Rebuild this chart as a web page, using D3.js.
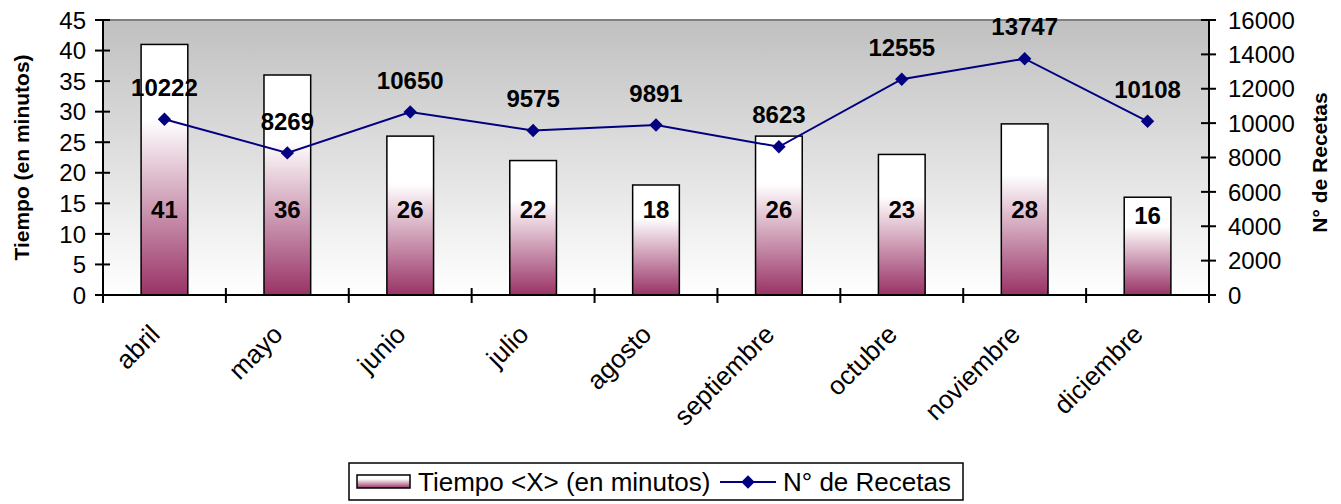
<!DOCTYPE html>
<html>
<head>
<meta charset="utf-8">
<script src="https://cdn.jsdelivr.net/npm/d3@7"></script>
<style>
  body { margin: 0; background: #fff; }
  text { font-family: "Liberation Sans", Arial, sans-serif; }
</style>
</head>
<body>
<svg id="chart" width="1341" height="504"></svg>
<script>
var months = ["abril", "mayo", "junio", "julio", "agosto", "septiembre", "octubre", "noviembre", "diciembre"];
var tiempo = [41, 36, 26, 22, 18, 26, 23, 28, 16];
var recetas = [10222, 8269, 10650, 9575, 9891, 8623, 12555, 13747, 10108];
var leftTicks = [0, 5, 10, 15, 20, 25, 30, 35, 40, 45];
var rightTicks = [0, 2000, 4000, 6000, 8000, 10000, 12000, 14000, 16000];

var svg = d3.select("#chart");
var plotLeft = 103, plotRight = 1209, plotTop = 20, plotBottom = 295;

var defs = svg.append("defs");
var bg = defs.append("linearGradient").attr("id", "bg")
    .attr("x1", 0).attr("y1", 0).attr("x2", 0).attr("y2", 1);
bg.append("stop").attr("offset", "0%").attr("stop-color", "#c0c0c0");
bg.append("stop").attr("offset", "100%").attr("stop-color", "#ffffff");

var barGrad = defs.append("linearGradient").attr("id", "barGrad")
    .attr("x1", 0).attr("y1", 0).attr("x2", 0).attr("y2", 1);
barGrad.append("stop").attr("offset", "0%").attr("stop-color", "#ffffff");
barGrad.append("stop").attr("offset", "30%").attr("stop-color", "#ffffff");
barGrad.append("stop").attr("offset", "100%").attr("stop-color", "#993366");

// both y scales share the same pixel range
var yLeft = d3.scaleLinear().domain([0, 45]).range([plotBottom, plotTop]);
var yRight = d3.scaleLinear().domain([0, 16000]).range([plotBottom, plotTop]);
var x = d3.scaleBand().domain(months).range([plotLeft, plotRight])
    .paddingInner(0.62).paddingOuter(0.31);

// plot background
svg.append("rect")
    .attr("x", plotLeft).attr("y", plotTop)
    .attr("width", plotRight - plotLeft).attr("height", plotBottom - plotTop)
    .attr("fill", "url(#bg)");
svg.append("line")
    .attr("x1", plotLeft).attr("x2", plotRight).attr("y1", plotTop).attr("y2", plotTop)
    .attr("stroke", "#808080").attr("stroke-width", 2);

// bars
svg.selectAll("rect.bar")
    .data(tiempo)
    .enter()
    .append("rect")
    .attr("class", "bar")
    .attr("x", function(d, i){ return x(months[i]); })
    .attr("y", function(d){ return yLeft(d); })
    .attr("width", x.bandwidth())
    .attr("height", function(d){ return plotBottom - yLeft(d); })
    .attr("fill", "url(#barGrad)")
    .attr("stroke", "#000")
    .attr("stroke-width", 1.5);

// axes
var axisG = svg.append("g").attr("stroke", "#000").attr("stroke-width", 2);
axisG.append("line").attr("x1", plotLeft).attr("x2", plotLeft).attr("y1", plotTop).attr("y2", plotBottom + 8);
axisG.append("line").attr("x1", plotRight).attr("x2", plotRight).attr("y1", plotTop).attr("y2", plotBottom + 8);
axisG.append("line").attr("x1", plotLeft - 8).attr("x2", plotRight + 7).attr("y1", plotBottom).attr("y2", plotBottom);

axisG.selectAll("line.lt").data(leftTicks).enter().append("line")
    .attr("x1", plotLeft - 8).attr("x2", plotLeft + 7)
    .attr("y1", function(d){ return yLeft(d); })
    .attr("y2", function(d){ return yLeft(d); });
axisG.selectAll("line.rt").data(rightTicks).enter().append("line")
    .attr("x1", plotRight - 8).attr("x2", plotRight + 7)
    .attr("y1", function(d){ return yRight(d); })
    .attr("y2", function(d){ return yRight(d); });

var step = x.step();
axisG.selectAll("line.xt").data(d3.range(1, months.length)).enter().append("line")
    .attr("x1", function(i){ return plotLeft + i * step; })
    .attr("x2", function(i){ return plotLeft + i * step; })
    .attr("y1", plotBottom - 7).attr("y2", plotBottom + 8);

svg.selectAll("text.lt").data(leftTicks).enter().append("text")
    .attr("x", plotLeft - 17)
    .attr("y", function(d){ return yLeft(d); })
    .attr("dy", "0.36em")
    .attr("text-anchor", "end")
    .attr("font-size", 24)
    .text(function(d){ return d; });

svg.selectAll("text.rt").data(rightTicks).enter().append("text")
    .attr("x", plotRight + 19)
    .attr("y", function(d){ return yRight(d); })
    .attr("dy", "0.36em")
    .attr("font-size", 24)
    .text(function(d){ return d; });

svg.selectAll("text.xl").data(months).enter().append("text")
    .attr("transform", function(d){
        return "translate(" + (x(d) + x.bandwidth() / 2 - 3) + "," + (plotBottom + 41) + ") rotate(-45)";
    })
    .attr("text-anchor", "end")
    .attr("font-size", 26)
    .text(function(d){ return d; });

// axis titles
svg.append("text")
    .attr("transform", "translate(29," + ((plotTop + plotBottom) / 2) + ") rotate(-90)")
    .attr("text-anchor", "middle")
    .attr("font-size", 21).attr("font-weight", "bold")
    .text("Tiempo (en minutos)");
svg.append("text")
    .attr("transform", "translate(1327," + ((plotTop + plotBottom) / 2 + 5) + ") rotate(-90)")
    .attr("text-anchor", "middle")
    .attr("font-size", 21).attr("font-weight", "bold")
    .text("N° de Recetas");

// bar labels
svg.selectAll("text.bl").data(tiempo).enter().append("text")
    .attr("x", function(d, i){ return x(months[i]) + x.bandwidth() / 2; })
    .attr("y", function(d){ return Math.max(yLeft(14), yLeft(d) + 18); })
    .attr("dy", "0.36em")
    .attr("text-anchor", "middle")
    .attr("font-size", 24).attr("font-weight", "bold")
    .text(function(d){ return d; });

// line series
var cx = function(i){ return x(months[i]) + x.bandwidth() / 2; };
var line = d3.line()
    .x(function(d, i){ return cx(i); })
    .y(function(d){ return yRight(d); });
svg.append("path")
    .datum(recetas)
    .attr("d", line)
    .attr("fill", "none")
    .attr("stroke", "#000080")
    .attr("stroke-width", 2);

var diamond = d3.symbol().type(d3.symbolSquare).size(90);
svg.selectAll("path.pt").data(recetas).enter().append("path")
    .attr("transform", function(d, i){ return "translate(" + cx(i) + "," + yRight(d) + ") rotate(45)"; })
    .attr("d", diamond)
    .attr("fill", "#000080");

svg.selectAll("text.ll").data(recetas).enter().append("text")
    .attr("x", function(d, i){ return cx(i); })
    .attr("y", function(d){ return yRight(d) - 32; })
    .attr("dy", "0.36em")
    .attr("text-anchor", "middle")
    .attr("font-size", 24).attr("font-weight", "bold")
    .text(function(d){ return d; });

// legend
var lg = svg.append("g");
lg.append("rect")
    .attr("x", 349).attr("y", 463).attr("width", 614).attr("height", 37)
    .attr("fill", "#fff").attr("stroke", "#000").attr("stroke-width", 1.5);
lg.append("rect")
    .attr("x", 357).attr("y", 475).attr("width", 53).attr("height", 13)
    .attr("fill", "url(#barGrad)").attr("stroke", "#000").attr("stroke-width", 1.5);
lg.append("text")
    .attr("x", 418).attr("y", 482).attr("dy", "0.36em")
    .attr("font-size", 26)
    .text("Tiempo <X> (en minutos)");
lg.append("line")
    .attr("x1", 720).attr("x2", 776).attr("y1", 482).attr("y2", 482)
    .attr("stroke", "#000080").attr("stroke-width", 2);
lg.append("path")
    .attr("transform", "translate(748,482) rotate(45)")
    .attr("d", diamond)
    .attr("fill", "#000080");
lg.append("text")
    .attr("x", 783).attr("y", 482).attr("dy", "0.36em")
    .attr("font-size", 26)
    .text("N° de Recetas");
</script>
</body>
</html>
